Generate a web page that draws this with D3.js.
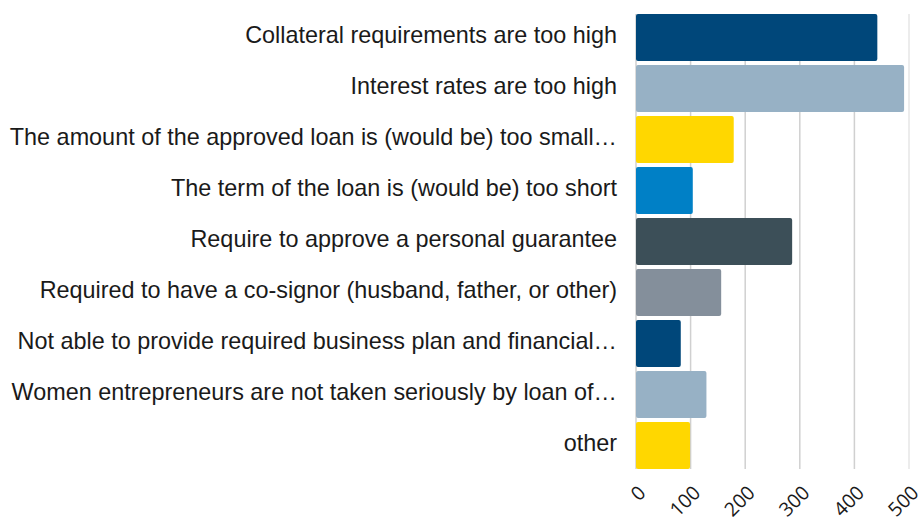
<!DOCTYPE html>
<html>
<head>
<meta charset="utf-8">
<script src="https://cdn.jsdelivr.net/npm/d3@7"></script>
<style>
  html, body { margin: 0; padding: 0; background: #fff; }
  svg { display: block; }
</style>
</head>
<body>
<svg id="chart" width="919" height="519"></svg>
<script>
// Reasons for loan difficulties, number of respondents
const categories = [
  "Collateral requirements are too high",
  "Interest rates are too high",
  "The amount of the approved loan is (would be) too small…",
  "The term of the loan is (would be) too short",
  "Require to approve a personal guarantee",
  "Required to have a co-signor (husband, father, or other)",
  "Not able to provide required business plan and financial…",
  "Women entrepreneurs are not taken seriously by loan of…",
  "other"
];
const counts = [442, 491, 179, 104, 286, 156, 82, 129, 99];
const barColors = ["#00477a", "#97b1c5", "#ffd700", "#0080c6", "#3c4f58", "#848f9b", "#00477a", "#97b1c5", "#ffd700"];
const tickValues = [0, 100, 200, 300, 400, 500];

const svg = d3.select("#chart");
const plot = { left: 636, right: 909, top: 12, bottom: 471 };

const x = d3.scaleLinear().domain([0, 500]).range([plot.left, plot.right]);
const y = d3.scaleBand().domain(categories).range([plot.top, plot.bottom]).paddingInner(0.08).paddingOuter(0.04);

// vertical gridlines
svg.append("g")
  .selectAll("line")
  .data(tickValues)
  .join("line")
  .attr("x1", d => x(d)).attr("x2", d => x(d))
  .attr("y1", y(categories[0])).attr("y2", y(categories[categories.length - 1]) + y.bandwidth())
  .attr("stroke", d => d === 500 ? "#e6e6e6" : "#d0d0d0")
  .attr("stroke-width", 1.5);

// bars
svg.append("g")
  .selectAll("rect")
  .data(categories)
  .join("rect")
  .attr("x", x(0))
  .attr("y", d => y(d))
  .attr("width", (d, i) => x(counts[i]) - x(0))
  .attr("height", y.bandwidth())
  .attr("rx", 2)
  .attr("fill", (d, i) => barColors[i]);

// category labels
svg.append("g")
  .selectAll("text")
  .data(categories)
  .join("text")
  .attr("x", 617)
  .attr("y", d => y(d) + y.bandwidth() / 2)
  .attr("dy", 5.5)
  .attr("text-anchor", "end")
  .attr("font-family", "'Liberation Sans', Arial, sans-serif")
  .attr("font-size", 23.4)
  .attr("fill", "#1a1a1a")
  .text(d => d);

// rotated tick labels
svg.append("g")
  .selectAll("text")
  .data(tickValues)
  .join("text")
  .attr("transform", d => `translate(${x(d) + 11},494) rotate(-45)`)
  .attr("text-anchor", "end")
  .attr("font-family", "'Open Sans', sans-serif")
  .attr("font-size", 19.5)
  .attr("fill", "#1a1a1a")
  .text(d => d);
</script>
</body>
</html>
